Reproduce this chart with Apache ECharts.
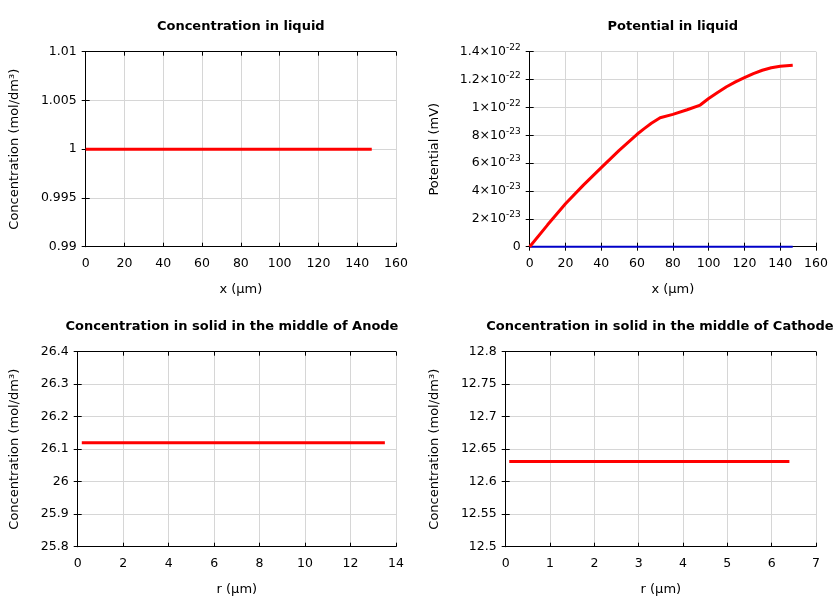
<!DOCTYPE html>
<html><head><meta charset="utf-8">
<script src="https://cdn.jsdelivr.net/npm/echarts@6/dist/echarts.min.js"></script>
<style>html,body{margin:0;padding:0;background:#fff}#c{width:840px;height:600px}</style>
</head><body><div id="c"></div>
<script>
// ---- data ----
const titles = ['Concentration in liquid', 'Potential in liquid',
  'Concentration in solid in the middle of Anode', 'Concentration in solid in the middle of Cathode'];
const xNames = ['x (µm)', 'x (µm)', 'r (µm)', 'r (µm)'];
const yNames = ['Concentration (mol/dm³)', 'Potential (mV)', 'Concentration (mol/dm³)', 'Concentration (mol/dm³)'];

const liqX = [0, 20, 40, 60, 80, 100, 120, 140, 147.5];
const liqC = [1, 1, 1, 1, 1, 1, 1, 1, 1];

const potX = [0, 10, 20, 30, 40, 50, 60, 64, 68, 72.9, 80, 88, 95.3, 100, 105, 110, 115, 120, 125, 130, 135, 140, 147];
const potY = [0, 1.57e-23, 3.08e-23, 4.42e-23, 5.68e-23, 6.92e-23, 8.07e-23, 8.48e-23, 8.86e-23, 9.26e-23,
  9.5e-23, 9.83e-23, 10.17e-23, 10.64e-23, 11.07e-23, 11.48e-23, 11.83e-23, 12.14e-23, 12.43e-23,
  12.67e-23, 12.85e-23, 12.96e-23, 13.03e-23];
const pot2X = [0, 147];
const pot2Y = [0, 0];

const anodeR = [0.18, 2, 4, 6, 8, 10, 12, 13.51];
const anodeC = [26.12, 26.12, 26.12, 26.12, 26.12, 26.12, 26.12, 26.12];

const cathR = [0.08, 1, 2, 3, 4, 5, 6, 6.4];
const cathC = [12.631, 12.631, 12.631, 12.631, 12.631, 12.631, 12.631, 12.631];

const xRanges = [[0, 160, 20], [0, 160, 20], [0, 14, 2], [0, 7, 1]];
const yRanges = [[0.99, 1.01, 0.005], [0, 14, 2], [25.8, 26.4, 0.1], [12.5, 12.8, 0.05]]; // potential axis in units of 1e-23
const POT_SCALE = 1e23;

// ---- layout ----
const grids = [
  {left: 85.7, top: 51.7, width: 310.3, height: 195},
  {left: 529.7, top: 51.7, width: 286.3, height: 195},
  {left: 77.7, top: 351.7, width: 318.3, height: 195},
  {left: 505.7, top: 351.7, width: 310.3, height: 195}
];
const titleCenters = [[240.8, 20], [672.8, 20], [232, 320], [660, 320]];
const yNameGaps = [65, 89, 57, 65];
const FONT = 'DejaVu Sans';
const TICK_FS = 12.5;

function potFmt(v) {
  v = Math.round(v * 1000) / 1000;
  if (v === 0) return '{b|0}';
  let e = -23, m = v;
  while (m >= 10) { m /= 10; e += 1; }
  m = Math.round(m * 1000) / 1000;
  return '{b|' + m + '×10}{s|' + e + '}';
}

const xAxis = [], yAxis = [];
grids.forEach((g, i) => {
  const [xmin, xmax, xint] = xRanges[i];
  const [ymin, ymax, yint] = yRanges[i];
  const line = {show: true, lineStyle: {color: '#000', width: 1}};
  const tick = {show: true, inside: true, length: 4, lineStyle: {color: '#000', width: 1}};
  const split = {show: true, lineStyle: {color: '#d6d6d6', width: 1}};
  xAxis.push({type: 'value', gridIndex: i, position: 'bottom', min: xmin, max: xmax, interval: xint,
    axisLine: line, axisTick: tick, splitLine: split,
    axisLabel: {color: '#000', fontFamily: FONT, fontSize: TICK_FS, margin: 11},
    name: xNames[i], nameLocation: 'middle', nameGap: 36,
    nameTextStyle: {color: '#000', fontFamily: FONT, fontSize: 13}});
  xAxis.push({type: 'value', gridIndex: i, position: 'top', min: xmin, max: xmax, interval: xint,
    axisLine: line, axisTick: tick, splitLine: {show: false}, axisLabel: {show: false}});
  const ylab = {color: '#000', fontFamily: FONT, fontSize: TICK_FS, margin: 9};
  if (i === 1) {
    ylab.formatter = potFmt;
    ylab.rich = {
      b: {color: '#000', fontFamily: FONT, fontSize: TICK_FS},
      s: {color: '#000', fontFamily: FONT, fontSize: 9, padding: [0, 0, 8, 0]}
    };
  }
  yAxis.push({type: 'value', gridIndex: i, position: 'left', min: ymin, max: ymax, interval: yint,
    axisLine: line, axisTick: tick, splitLine: split,
    axisLabel: ylab,
    name: yNames[i], nameLocation: 'middle', nameGap: yNameGaps[i],
    nameTextStyle: {color: '#000', fontFamily: FONT, fontSize: 13}});
  yAxis.push({type: 'value', gridIndex: i, position: 'right', min: ymin, max: ymax, interval: yint,
    axisLine: line, axisTick: tick, splitLine: {show: false}, axisLabel: {show: false}});
});

function pairs(xs, ys, k) { return xs.map((x, j) => [x, ys[j] * (k || 1)]); }
function lineSeries(i, data, color, w, z) {
  return {type: 'line', xAxisIndex: i * 2, yAxisIndex: i * 2, data: data, showSymbol: false, symbol: 'none',
    lineStyle: {color: color, width: w}, z: z || 3, animation: false, clip: false};
}

const option = {
  animation: false,
  backgroundColor: '#fff',
  title: titles.map((t, i) => ({text: t, left: titleCenters[i][0], top: titleCenters[i][1], textAlign: 'center',
    padding: 0,
    textStyle: {fontFamily: FONT, fontSize: 13, fontWeight: 'bold', color: '#000'}})),
  grid: grids,
  xAxis: xAxis,
  yAxis: yAxis,
  series: [
    lineSeries(0, pairs(liqX, liqC), '#ff0000', 3),
    lineSeries(1, pairs(pot2X, pot2Y, POT_SCALE), '#0000c8', 2, 4),
    lineSeries(1, pairs(potX, potY, POT_SCALE), '#ff0000', 3, 5),
    lineSeries(2, pairs(anodeR, anodeC), '#ff0000', 3),
    lineSeries(3, pairs(cathR, cathC), '#ff0000', 3)
  ]
};
const chart = echarts.init(document.getElementById('c'), null, {renderer: 'canvas'});
chart.setOption(option);
</script>
</body></html>
